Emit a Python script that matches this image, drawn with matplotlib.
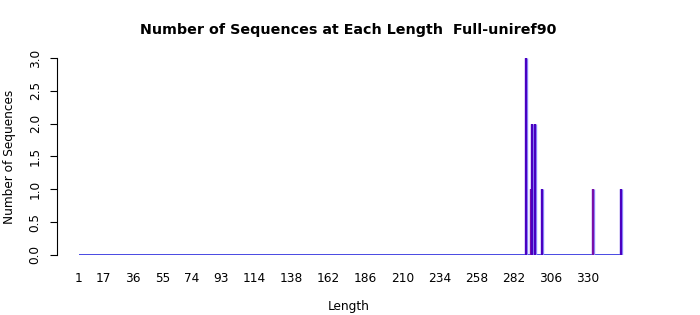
import matplotlib
matplotlib.use("Agg")
import matplotlib.pyplot as plt

# sequence lengths with non-zero counts
lengths = [290, 293, 294, 296, 300, 333, 351]
counts = [3, 1, 2, 2, 1, 1, 1]
min_len, max_len = 1, 351

x_tick_labels = [1, 17, 36, 55, 74, 93, 114, 138, 162, 186, 210, 234, 258, 282, 306, 330]
y_ticks = [0.0, 0.5, 1.0, 1.5, 2.0, 2.5, 3.0]

# purple-ish bars, two of them redder
bar_colors = ["#4a00c0", "#7a10a8", "#4a00c0", "#4a00c0", "#4a00c0", "#7a10a8", "#4a00c0"]

fig = plt.figure(figsize=(7, 3.15), dpi=100)
ax = fig.add_axes([0.0814, 0.1905, 0.833, 0.6254])

# baseline across all lengths
ax.plot([min_len, max_len], [0, 0], color="#3a3ae0", lw=1.3, solid_capstyle="butt")
ax.vlines(lengths, 0, counts, colors="#9090ff", lw=2.4)
ax.vlines(lengths, 0, counts, colors=bar_colors, lw=1.6)

ax.set_xlim(-13.2, 363.6)
ax.set_ylim(0, 3)

for s in ["top", "right", "bottom"]:
    ax.spines[s].set_visible(False)
ax.spines["left"].set_bounds(0, 3)
ax.spines["left"].set_linewidth(0.8)

ax.set_xticks(x_tick_labels)
ax.set_xticklabels([str(v) for v in x_tick_labels], fontsize=8.75)
ax.tick_params(axis="x", length=0, pad=12)
ax.set_yticks(y_ticks)
ax.set_yticklabels(["%.1f" % v for v in y_ticks], fontsize=8.75, rotation=90, va="center")
ax.tick_params(axis="y", length=5, width=0.8, pad=6)

ax.set_title("Number of Sequences at Each Length  Full-uniref90",
             fontsize=10.25, fontweight="bold", pad=17)
ax.set_xlabel("Length", fontsize=8.75, labelpad=11)
ax.set_ylabel("Number of Sequences", fontsize=8.75, labelpad=9)

fig.savefig("out.png", dpi=100)
